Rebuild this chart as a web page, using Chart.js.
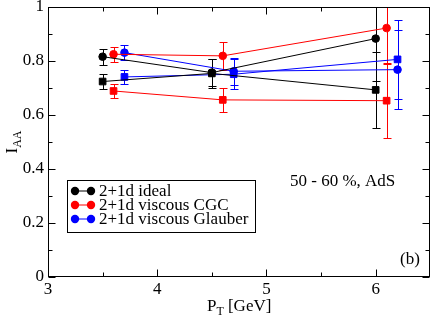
<!DOCTYPE html>
<html><head><meta charset="utf-8">
<script src="https://cdn.jsdelivr.net/npm/chart.js@4/dist/chart.umd.min.js"></script>
<style>html,body{margin:0;padding:0;background:#fff}</style>
</head><body>
<canvas id="c" width="436" height="317"></canvas>
<script>
// ---- data ----
const seriesNames = ["2+1d ideal", "2+1d viscous CGC", "2+1d viscous Glauber"];
const seriesColors = ["#000000", "#ff0000", "#0000ff"];
const xIdeal = [3.5, 4.5, 6.0];
const idealCircle = [0.816, 0.757, 0.883];
const idealCircleErr = [0.030, 0.050, 0.156];
const idealSquare = [0.724, 0.754, 0.693];
const idealSquareErr = [0.028, 0.055, 0.140];
const xCGC = [3.6, 4.6, 6.1];
const cgcCircle = [0.825, 0.819, 0.922];
const cgcCircleErr = [0.028, 0.052, 0.130];
const cgcSquare = [0.689, 0.656, 0.653];
const cgcSquareErr = [0.027, 0.045, 0.137];
const xGlauber = [3.7, 4.7, 6.2];
const glauberCircle = [0.831, 0.762, 0.768];
const glauberCircleErr = [0.029, 0.050, 0.145];
const glauberSquare = [0.741, 0.751, 0.806];
const glauberSquareErr = [0.026, 0.055, 0.146];
const xTicks = [3, 4, 5, 6];
const yTicks = [0, 0.2, 0.4, 0.6, 0.8, 1];
const xMinor = [3.5, 4.5, 5.5];
const yMinor = [0.1, 0.3, 0.5, 0.7, 0.9];
const annotationText = "50 - 60 %, AdS";
const panelText = "(b)";

const FONT = "'Liberation Serif', 'Times New Roman', serif";

const groups = [
  {xs: xIdeal, ys: idealCircle, err: idealCircleErr, c: 0, style: 'circle'},
  {xs: xIdeal, ys: idealSquare, err: idealSquareErr, c: 0, style: 'rect'},
  {xs: xCGC, ys: cgcCircle, err: cgcCircleErr, c: 1, style: 'circle'},
  {xs: xCGC, ys: cgcSquare, err: cgcSquareErr, c: 1, style: 'rect'},
  {xs: xGlauber, ys: glauberCircle, err: glauberCircleErr, c: 2, style: 'circle'},
  {xs: xGlauber, ys: glauberSquare, err: glauberSquareErr, c: 2, style: 'rect'}
];

const datasets = groups.map(g => ({
  label: seriesNames[g.c],
  data: g.xs.map((x, i) => ({x, y: g.ys[i]})),
  borderColor: seriesColors[g.c],
  backgroundColor: seriesColors[g.c],
  borderWidth: 1,
  pointStyle: g.style,
  pointRadius: g.style === 'circle' ? 3.8 : 4.7,
  pointBorderWidth: 1,
  pointBackgroundColor: seriesColors[g.c],
  pointBorderColor: seriesColors[g.c],
  tension: 0,
  fill: false
}));

const overlay = {
  id: 'overlay',
  beforeDatasetsDraw(chart) {
    const {ctx, chartArea: a, scales: {x, y}} = chart;
    ctx.save();
    ctx.beginPath(); ctx.rect(a.left, a.top, a.right - a.left, a.bottom - a.top); ctx.clip();
    ctx.lineWidth = 1;
    groups.forEach(g => {
      ctx.strokeStyle = seriesColors[g.c];
      g.xs.forEach((xv, i) => {
        const px = Math.round(x.getPixelForValue(xv)) + 0.5;
        const yt = Math.round(y.getPixelForValue(g.ys[i] + g.err[i])) + 0.5;
        const yb = Math.round(y.getPixelForValue(g.ys[i] - g.err[i])) + 0.5;
        ctx.beginPath();
        ctx.moveTo(px, yt); ctx.lineTo(px, yb);
        ctx.moveTo(px - 4, yt); ctx.lineTo(px + 4, yt);
        ctx.moveTo(px - 4, yb); ctx.lineTo(px + 4, yb);
        ctx.stroke();
      });
    });
    ctx.restore();
  },
  afterDraw(chart) {
    const {ctx, chartArea: a, scales: {x, y}} = chart;
    ctx.save();
    ctx.strokeStyle = '#000'; ctx.lineWidth = 1;
    const L = Math.round(a.left) + 0.5, R = Math.round(a.right) - 0.5;
    const T = Math.round(a.top) + 0.5, B = Math.round(a.bottom) - 0.5;
    ctx.strokeRect(L, T, R - L, B - T);
    ctx.beginPath();
    const tx = (v, len) => { const p = Math.round(x.getPixelForValue(v)) + 0.5;
      ctx.moveTo(p, B); ctx.lineTo(p, B - len); ctx.moveTo(p, T); ctx.lineTo(p, T + len); };
    const ty = (v, len) => { const p = Math.round(y.getPixelForValue(v)) + 0.5;
      ctx.moveTo(L, p); ctx.lineTo(L + len, p); ctx.moveTo(R, p); ctx.lineTo(R - len, p); };
    xTicks.forEach(v => tx(v, 7)); xMinor.forEach(v => tx(v, 4));
    yTicks.forEach(v => ty(v, 7)); yMinor.forEach(v => ty(v, 4));
    ctx.stroke();

    // legend
    ctx.fillStyle = '#fff';
    ctx.fillRect(67.5, 180.5, 188, 52);
    ctx.strokeRect(67.5, 180.5, 188, 52);
    ctx.font = '17px ' + FONT;
    ctx.textBaseline = 'middle'; ctx.textAlign = 'left';
    seriesNames.forEach((n, i) => {
      const yy = 191 + i * 14;
      ctx.strokeStyle = seriesColors[i]; ctx.fillStyle = seriesColors[i];
      ctx.beginPath(); ctx.moveTo(75, yy); ctx.lineTo(91, yy); ctx.stroke();
      [75, 91].forEach(cx => { ctx.beginPath(); ctx.arc(cx, yy, 4.2, 0, Math.PI * 2); ctx.fill(); });
      ctx.fillStyle = '#000';
      ctx.fillText(n, 99, yy + 1);
    });

    // annotations
    ctx.fillStyle = '#000';
    ctx.fillText(annotationText, 290, 182);
    ctx.fillText(panelText, 400, 260);

    // x title P_T [GeV]
    ctx.textBaseline = 'alphabetic';
    const cx = (a.left + a.right) / 2;
    ctx.font = '17px ' + FONT;
    const wP = ctx.measureText('P').width, wRest = ctx.measureText(' [GeV]').width;
    ctx.font = '12px ' + FONT;
    const wT = ctx.measureText('T').width;
    let sx = cx - (wP + wT + wRest) / 2;
    ctx.font = '17px ' + FONT; ctx.fillText('P', sx, 311);
    ctx.font = '12px ' + FONT; ctx.fillText('T', sx + wP, 315);
    ctx.font = '17px ' + FONT; ctx.fillText(' [GeV]', sx + wP + wT, 311);

    // y title I_AA
    ctx.translate(17, (a.top + a.bottom) / 2);
    ctx.rotate(-Math.PI / 2);
    ctx.font = '17px ' + FONT;
    const wI = ctx.measureText('I').width;
    ctx.font = '12px ' + FONT;
    const wAA = ctx.measureText('AA').width;
    const s0 = -(wI + wAA) / 2;
    ctx.font = '17px ' + FONT; ctx.fillText('I', s0, 0);
    ctx.font = '12px ' + FONT; ctx.fillText('AA', s0 + wI, 4);
    ctx.restore();
  }
};

new Chart(document.getElementById('c'), {
  type: 'line',
  data: {datasets},
  options: {
    responsive: false,
    animation: false,
    layout: {padding: {top: 7, right: 3, left: 0, bottom: 0}},
    plugins: {legend: {display: false}, tooltip: {enabled: false}},
    scales: {
      x: {
        type: 'linear', min: 3, max: 6.5,
        afterBuildTicks: s => { s.ticks = xTicks.map(v => ({value: v})); },
        afterFit: s => { s.height = 40; s.paddingLeft = 0; s.paddingRight = 0; },
        grid: {display: false, drawTicks: false}, border: {display: false},
        ticks: {font: {family: FONT, size: 17}, color: '#000', padding: 2, maxRotation: 0,
          callback: v => String(v)}
      },
      y: {
        type: 'linear', min: 0, max: 1,
        afterBuildTicks: s => { s.ticks = yTicks.map(v => ({value: v})); },
        afterFit: s => { s.width = 48; s.paddingTop = 0; s.paddingBottom = 0; },
        grid: {display: false, drawTicks: false}, border: {display: false},
        ticks: {font: {family: FONT, size: 17}, color: '#000', padding: 4,
          callback: v => String(v)}
      }
    }
  },
  plugins: [overlay]
});
</script>
</body></html>
